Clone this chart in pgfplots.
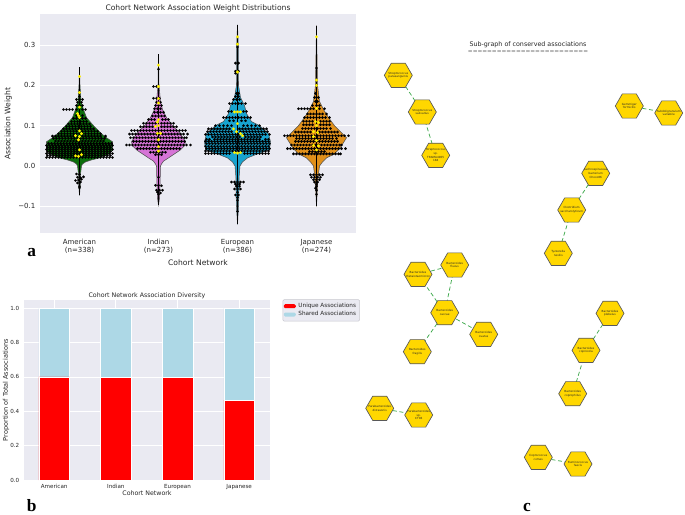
\documentclass[border=0pt]{standalone}
\usepackage{pgfplots}
\pgfplotsset{compat=1.18}
\usepackage{fontspec}
\setmainfont{DejaVu Sans}
\newfontfamily\labfont{Liberation Serif}

\definecolor{panel}{HTML}{EAEAF2}
\definecolor{inktext}{HTML}{262626}
\definecolor{vgreen}{HTML}{0B6E0B}
\definecolor{vpink}{HTML}{D674D6}
\definecolor{vblue}{HTML}{18A3CF}
\definecolor{vorange}{HTML}{E0901A}
\definecolor{vedge}{HTML}{505050}
\definecolor{edgegreen}{HTML}{3CA84A}
\definecolor{hexgold}{HTML}{FFD700}
\definecolor{lightblue}{HTML}{ADD8E6}

% flat topped hexagon, 28 px across
\pgfdeclareplotmark{hex}{%
  \pgfpathmoveto{\pgfqpoint{10.5pt}{0pt}}%
  \pgfpathlineto{\pgfqpoint{5.25pt}{9.09pt}}%
  \pgfpathlineto{\pgfqpoint{-5.25pt}{9.09pt}}%
  \pgfpathlineto{\pgfqpoint{-10.5pt}{0pt}}%
  \pgfpathlineto{\pgfqpoint{-5.25pt}{-9.09pt}}%
  \pgfpathlineto{\pgfqpoint{5.25pt}{-9.09pt}}%
  \pgfpathclose\pgfusepathqfillstroke}

\pgfplotsset{
  seabornish/.style={
    scale only axis, enlargelimits=false,
    axis background/.style={fill=panel},
    axis line style={draw=none}, tick style={draw=none},
    grid style={white,line width=0.6pt},
    tick label style={text=inktext},
    label style={text=inktext},
    title style={text=inktext},
  },
  dots/.style={only marks,mark=*,mark size=0.9pt,mark options={draw=black,fill=black,line width=0.2pt}},
  ydots/.style={only marks,mark=*,mark size=1pt,mark options={draw=yellow,fill=yellow,line width=0.2pt}},
  violin/.style={draw=vedge,line width=0.4pt,fill=#1},
  whisk/.style={black,line width=0.5pt},
  edgeline/.style={edgegreen,densely dashed,line width=0.55pt,mark=none},
  wholepage/.style={at={(0pt,0pt)},anchor=south west,scale only axis,
    width=513.75pt,height=385.5pt,
    xmin=0,xmax=685,ymin=0,ymax=514,y dir=reverse,hide axis,clip=false},
}

\begin{document}
\begin{tikzpicture}
\useasboundingbox (0,0) rectangle (513.75pt,385.5pt);

% panel a
\begin{axis}[seabornish,
  at={(30pt,210.5pt)},anchor=south west,
  width=237pt,height=164.25pt,
  xmin=0.5,xmax=316.5,ymin=-0.167,ymax=0.376,
  ymajorgrids,
  xtick={40,119,198,277},
  xticklabels={{American\\(n=338)},{Indian\\(n=273)},{European\\(n=386)},{Japanese\\(n=274)}},
  ytick={-0.1,0,0.1,0.2,0.3},
  yticklabels={−0.1,0.0,0.1,0.2,0.3},
  tick label style={font=\fontsize{5.25}{6}\selectfont},
  xticklabel style={align=center,yshift=-1pt},
  label style={font=\fontsize{5.7}{6}\selectfont},
  title style={font=\fontsize{5.7}{6}\selectfont,yshift=-8pt},
  xlabel style={yshift=2pt},
  ylabel style={yshift=-2.2pt},
  title={Cohort Network Association Weight Distributions},
  xlabel={Cohort Network},
  ylabel={Association Weight},
]
% violins
\addplot[violin=vgreen] coordinates {(40,.245)(39.5,.2)(38.5,.16)(36,.14)(33,.12)(26,.1)(18,.08)(13,.07)(7,.06)(7,.04)(10,.03)(20,.02)(28,.015)(34,.01)(37,.005)(38,0)(39,-.02)(39.3,-.05)(40,-.073)(40.7,-.05)(41,-.02)(42,0)(43,.005)(46,.01)(52,.015)(60,.02)(70,.03)(73,.04)(73,.06)(67,.07)(62,.08)(54,.1)(47,.12)(44,.14)(41.5,.16)(40.5,.2)} --cycle;
\addplot[violin=vpink] coordinates {(119,.277)(118.5,.2)(117,.16)(115,.14)(111,.12)(105,.1)(97,.08)(92,.06)(93,.05)(97,.04)(103,.03)(109,.02)(114,.012)(116,.005)(117,0)(117.5,-.05)(118,-.08)(119,-.097)(120,-.08)(120.5,-.05)(121,0)(122,.005)(124,.012)(129,.02)(135,.03)(141,.04)(145,.05)(146,.06)(141,.08)(133,.1)(127,.12)(123,.14)(121,.16)(119.5,.2)} --cycle;
\addplot[violin=vblue] coordinates {(198,.35)(197.2,.3)(197,.2)(195,.17)(191,.15)(189,.13)(184,.11)(176,.1)(167,.08)(165,.06)(166,.04)(178,.03)(188,.02)(193,.01)(195.5,0)(196.5,-.03)(196.5,-.06)(197,-.1)(198,-.145)(199,-.1)(199.5,-.06)(199.5,-.03)(200.5,0)(203,.01)(208,.02)(218,.03)(230,.04)(231,.06)(229,.08)(220,.1)(212,.11)(207,.13)(205,.15)(201,.17)(199,.2)(198.8,.3)} --cycle;
\addplot[violin=vorange] coordinates {(277,.348)(276,.2)(274,.16)(270,.14)(265,.12)(259,.1)(251,.08)(247,.07)(252,.05)(255,.04)(259,.03)(267,.02)(271,.01)(274,0)(275,-.02)(276,-.05)(277,-.1)(278,-.05)(279,-.02)(280,0)(283,.01)(287,.02)(295,.03)(299,.04)(302,.05)(307,.07)(303,.08)(295,.1)(289,.12)(284,.14)(280,.16)(278,.2)} --cycle;
% centre lines
\addplot[whisk] coordinates {(40,.245)(40,-.073)};
\addplot[whisk] coordinates {(119,.277)(119,-.097)};
\addplot[whisk] coordinates {(198,.35)(198,-.145)};
\addplot[whisk] coordinates {(277,.348)(277,-.1)};

% American swarm
\addplot[dots] coordinates {
(7,.021)(10,.021)(13,.021)(16,.021)(19,.021)(22,.021)(25,.021)(28,.021)(31,.021)(34,.021)(37,.021)(40,.021)(43,.021)(46,.021)(49,.021)(52,.021)(55,.021)(58,.021)(61,.021)(64,.021)(67,.021)(70,.021)(73,.021)
(8,.026)(11,.026)(14,.026)(17,.026)(20,.026)(23,.026)(26,.026)(29,.026)(32,.026)(35,.026)(38,.026)(41,.026)(44,.026)(47,.026)(50,.026)(53,.026)(56,.026)(59,.026)(62,.026)(65,.026)(68,.026)(71,.026)
(7,.031)(10,.031)(13,.031)(16,.031)(19,.031)(22,.031)(25,.031)(28,.031)(31,.031)(34,.031)(37,.031)(40,.031)(43,.031)(46,.031)(49,.031)(52,.031)(55,.031)(58,.031)(61,.031)(64,.031)(67,.031)(70,.031)(73,.031)
(8,.036)(11,.036)(14,.036)(17,.036)(20,.036)(23,.036)(26,.036)(29,.036)(32,.036)(35,.036)(38,.036)(41,.036)(44,.036)(47,.036)(50,.036)(53,.036)(56,.036)(59,.036)(62,.036)(65,.036)(68,.036)(71,.036)
(7,.041)(10,.041)(13,.041)(16,.041)(19,.041)(22,.041)(25,.041)(28,.041)(31,.041)(34,.041)(37,.041)(40,.041)(43,.041)(46,.041)(49,.041)(52,.041)(55,.041)(58,.041)(61,.041)(64,.041)(67,.041)(70,.041)(73,.041)
(8,.046)(11,.046)(14,.046)(17,.046)(20,.046)(23,.046)(26,.046)(29,.046)(32,.046)(35,.046)(38,.046)(41,.046)(44,.046)(47,.046)(50,.046)(53,.046)(56,.046)(59,.046)(62,.046)(65,.046)(68,.046)(71,.046)
(7,.051)(10,.051)(13,.051)(16,.051)(19,.051)(22,.051)(25,.051)(28,.051)(31,.051)(34,.051)(37,.051)(40,.051)(43,.051)(46,.051)(49,.051)(52,.051)(55,.051)(58,.051)(61,.051)(64,.051)(67,.051)(70,.051)(73,.051)
(9,.056)(12,.056)(15,.056)(18,.056)(21,.056)(24,.056)(27,.056)(30,.056)(33,.056)(36,.056)(39,.056)(42,.056)(45,.056)(48,.056)(51,.056)(54,.056)(57,.056)(60,.056)(63,.056)(66,.056)(69,.056)(72,.056)
(16,.062)(19,.062)(22,.062)(25,.062)(28,.062)(31,.062)(34,.062)(37,.062)(40,.062)(43,.062)(46,.062)(49,.062)(52,.062)(55,.062)(58,.062)(61,.062)(64,.062)
(14,.068)(17,.068)(20,.068)(23,.068)(26,.068)(29,.068)(32,.068)(35,.068)(38,.068)(41,.068)(44,.068)(47,.068)(50,.068)(53,.068)(56,.068)(59,.068)(62,.068)(65,.068)
(13,.074)(16,.074)(19,.074)(22,.074)(25,.074)(28,.074)(31,.074)(34,.074)(37,.074)(43,.074)(46,.074)(49,.074)(52,.074)(55,.074)(58,.074)(61,.074)(66,.074)
(19,.08)(22,.08)(25,.08)(28,.08)(31,.08)(34,.08)(37,.08)(40,.08)(43,.08)(46,.08)(49,.08)(52,.08)(55,.08)(58,.08)(61,.08)
(22,.086)(25,.086)(28,.086)(31,.086)(34,.086)(37,.086)(40,.086)(43,.086)(46,.086)(49,.086)(52,.086)(55,.086)(58,.086)
(24,.092)(27,.092)(30,.092)(33,.092)(36,.092)(39,.092)(42,.092)(45,.092)(48,.092)(51,.092)(54,.092)
(27,.098)(30,.098)(33,.098)(36,.098)(39,.098)(42,.098)(45,.098)(48,.098)(51,.098)
(29,.104)(32,.104)(35,.104)(38,.104)(41,.104)(44,.104)(47,.104)(50,.104)
(32,.11)(35,.11)(38,.11)(41,.11)(44,.11)(47,.11)
(34,.118)(37,.118)(40,.118)(43,.118)(46,.118)
(37,.125)(43,.125)
(24,.14)(27,.14)(30,.14)(33,.14)(37,.14)(43,.14)(46,.14)
(37,.15)(40,.15)(43,.15)(38,.158)(42,.158)(37,.165)(40,.165)(43,.165)(40,.172)
(37,-.02)(40,-.021)(38,-.028)(41,-.029)(44,-.027)(36,-.036)(39,-.035)(42,-.033)(38,-.042)(41,-.04)(40,-.05)(40,-.054)
};
\addplot[ydots] coordinates {(40,.222)(40,.182)(40,.146)(38,.13)(39,.125)(40,.12)(40,.087)(36,.075)(40,.073)(42,.08)(39,.065)(40,.04)(36,.025)(39,.024)(42,.028)};

% Indian swarm
\addplot[dots] coordinates {
(116,.028)(119,.028)(122,.028)
(111,.034)(114,.034)(117,.034)(120,.034)(123,.034)(126,.034)
(98,.043)(101,.043)(104,.043)(107,.043)(110,.043)(113,.043)(116,.043)(119,.043)(122,.043)(125,.043)(128,.043)(131,.043)(134,.043)(137,.043)(140,.043)
(87,.052)(90,.052)(93,.052)(96,.052)(99,.052)(102,.052)(105,.052)(108,.052)(111,.052)(114,.052)(117,.052)(120,.052)(123,.052)(126,.052)(129,.052)(132,.052)(135,.052)(138,.052)(141,.052)(144,.052)(147,.052)(151,.052)
(94,.061)(97,.061)(100,.061)(103,.061)(106,.061)(109,.061)(112,.061)(115,.061)(118,.061)(121,.061)(124,.061)(127,.061)(130,.061)(133,.061)(136,.061)(139,.061)(142,.061)(145,.061)
(91,.07)(94,.07)(97,.07)(100,.07)(103,.07)(106,.07)(109,.07)(112,.07)(115,.07)(118,.07)(121,.07)(124,.07)(127,.07)(130,.07)(133,.07)(136,.07)(139,.07)(142,.07)(145,.07)(147,.07)
(90,.079)(93,.079)(96,.079)(99,.079)(102,.079)(105,.079)(108,.079)(111,.079)(114,.079)(117,.079)(120,.079)(123,.079)(126,.079)(129,.079)(132,.079)(135,.079)(138,.079)(141,.079)(144,.079)(148,.079)
(92,.088)(95,.088)(98,.088)(101,.088)(104,.088)(107,.088)(110,.088)(113,.088)(116,.088)(119,.088)(122,.088)(125,.088)(128,.088)(131,.088)(134,.088)(137,.088)(140,.088)(143,.088)(146,.088)
(101,.097)(104,.097)(107,.097)(110,.097)(113,.097)(122,.097)(125,.097)(128,.097)(131,.097)(134,.097)(137,.097)
(104,.106)(107,.106)(110,.106)(113,.106)(116,.106)(122,.106)(125,.106)(128,.106)(131,.106)(134,.106)
(109,.115)(112,.115)(115,.115)(123,.115)(126,.115)(129,.115)
(113,.124)(116,.124)(119,.124)(122,.124)(125,.124)
(115,.133)(118,.133)(121,.133)(124,.133)
(115,.142)(118,.142)(121,.142)(116,.15)(119,.15)(122,.15)(117,.158)(121,.158)(114,.168)(117,.168)(120,.168)
(114,.197)(117,.197)(119,.24)
(119,-.028)(116,-.048)(119,-.048)(122,-.049)(117,-.06)(120,-.06)(123,-.06)(118,-.065)(121,-.067)(119,-.07)
};
\addplot[ydots] coordinates {(119,.25)(119,.197)(119,.167)(119,.156)(119,.115)(118,.109)(119,.1)(116,.098)(118,.081)(121,.081)(119,.065)(119,.048)(119,.037)};

% European swarm
\addplot[dots] coordinates {
(166,.031)(169,.031)(172,.031)(175,.031)(178,.031)(181,.031)(184,.031)(187,.031)(190,.031)(205,.031)(208,.031)(211,.031)(214,.031)(217,.031)(220,.031)(223,.031)(226,.031)(229,.031)
(166,.037)(169,.037)(172,.037)(175,.037)(178,.037)(181,.037)(184,.037)(187,.037)(190,.037)(193,.037)(196,.037)(199,.037)(202,.037)(205,.037)(208,.037)(211,.037)(214,.037)(217,.037)(220,.037)(223,.037)(226,.037)(229,.037)
(167,.043)(170,.043)(173,.043)(176,.043)(179,.043)(182,.043)(185,.043)(188,.043)(191,.043)(194,.043)(197,.043)(200,.043)(203,.043)(206,.043)(209,.043)(212,.043)(215,.043)(218,.043)(221,.043)(224,.043)(227,.043)(230,.043)
(166,.049)(169,.049)(172,.049)(175,.049)(178,.049)(181,.049)(184,.049)(187,.049)(190,.049)(193,.049)(196,.049)(199,.049)(202,.049)(205,.049)(208,.049)(211,.049)(214,.049)(217,.049)(220,.049)(223,.049)(226,.049)(229,.049)
(167,.055)(170,.055)(173,.055)(176,.055)(179,.055)(182,.055)(185,.055)(188,.055)(191,.055)(194,.055)(197,.055)(200,.055)(203,.055)(206,.055)(209,.055)(212,.055)(215,.055)(218,.055)(221,.055)(224,.055)(227,.055)(230,.055)
(166,.061)(169,.061)(172,.061)(175,.061)(178,.061)(181,.061)(184,.061)(187,.061)(190,.061)(193,.061)(196,.061)(199,.061)(202,.061)(205,.061)(208,.061)(211,.061)(214,.061)(217,.061)(220,.061)(223,.061)(226,.061)(229,.061)
(167,.066)(170,.066)(175,.066)(178,.066)(181,.066)(184,.066)(187,.066)(190,.066)(193,.066)(196,.066)(199,.066)(202,.066)(205,.066)(208,.066)(211,.066)(214,.066)(217,.066)(220,.066)(226,.066)(229,.066)
(173,.072)(176,.072)(179,.072)(182,.072)(185,.072)(188,.072)(191,.072)(194,.072)(197,.072)(200,.072)(206,.072)(209,.072)(212,.072)(215,.072)(218,.072)(221,.072)
(166,.078)(169,.078)(172,.078)(175,.078)(178,.078)(181,.078)(184,.078)(187,.078)(190,.078)(193,.078)(196,.078)(199,.078)(205,.078)(208,.078)(211,.078)(214,.078)(217,.078)(220,.078)(223,.078)(226,.078)(230,.078)
(168,.085)(171,.085)(174,.085)(177,.085)(180,.085)(183,.085)(186,.085)(189,.085)(192,.085)(201,.085)(204,.085)(207,.085)(210,.085)(213,.085)(216,.085)(219,.085)(222,.085)(225,.085)(228,.085)
(169,.092)(172,.092)(175,.092)(178,.092)(181,.092)(184,.092)(187,.092)(190,.092)(200,.092)(203,.092)(206,.092)(209,.092)(212,.092)(215,.092)(218,.092)(221,.092)(224,.092)(227,.092)
(176,.1)(180,.1)(184,.1)(188,.1)(192,.1)(204,.1)(208,.1)(212,.1)(216,.1)(220,.1)
(184,.12)(187,.12)(190,.12)(193,.12)(196,.12)(199,.12)(202,.12)(205,.12)(208,.12)(211,.12)
(190,.112)(194,.112)(202,.112)(206,.112)
(189,.135)(192,.135)(204,.135)(207,.135)
(190,.155)(193,.155)(196,.155)(199,.155)(202,.155)(206,.155)
(194,.165)(197,.165)(200,.165)(196,.172)(199,.172)(197,.18)(199,.18)
(196,.235)(199,.235)(196,.23)(196,.255)(199,.255)(198,.295)
(192,-.04)(195,-.04)(198,-.04)(201,-.04)(204,-.04)(196,-.045)(200,-.045)(197,-.05)(200,-.05)(195,-.057)(198,-.057)(201,-.057)(198,-.065)(196,-.072)(199,-.072)(198,-.078)(198,-.085)(198,-.113)
};
\addplot[ydots] coordinates {(198,.32)(198,.302)(198,.233)(195,.134)(198,.134)(201,.134)(198,.105)(194,.092)(197,.085)(201,.08)(203,.075)(195,.033)(198,.032)(201,.033)};

% Japanese swarm
\addplot[dots] coordinates {
(254,.03)(257,.03)(260,.03)(263,.03)(266,.03)(269,.03)(272,.03)(275,.03)(278,.03)(281,.03)(284,.03)(287,.03)(290,.03)(293,.03)(296,.03)(299,.03)(301,.03)
(270,.036)(273,.036)(276,.036)(279,.036)(282,.036)(285,.036)
(248,.043)(251,.043)(254,.043)(257,.043)(260,.043)(263,.043)(266,.043)(269,.043)(272,.043)(275,.043)(278,.043)(281,.043)(284,.043)(287,.043)(290,.043)(293,.043)(296,.043)(299,.043)(302,.043)(306,.043)
(252,.052)(255,.052)(258,.052)(261,.052)(264,.052)(267,.052)(270,.052)(273,.052)(276,.052)(279,.052)(282,.052)(285,.052)(288,.052)(291,.052)(294,.052)(297,.052)(300,.052)(302,.052)
(256,.061)(259,.061)(262,.061)(265,.061)(268,.061)(271,.061)(274,.061)(277,.061)(280,.061)(283,.061)(286,.061)(289,.061)(292,.061)(295,.061)(298,.061)
(257,.068)(260,.068)(263,.068)(266,.068)(269,.068)(272,.068)(275,.068)(278,.068)(281,.068)(284,.068)(287,.068)(290,.068)(293,.068)(297,.068)
(245,.075)(248,.075)(251,.075)(254,.075)(257,.075)(260,.075)(263,.075)(266,.075)(269,.075)(272,.075)(275,.075)(278,.075)(281,.075)(284,.075)(287,.075)(290,.075)(293,.075)(296,.075)(299,.075)(302,.075)(305,.075)(309,.075)
(256,.084)(259,.084)(262,.084)(265,.084)(268,.084)(271,.084)(280,.084)(283,.084)(286,.084)(289,.084)(292,.084)(295,.084)(298,.084)
(263,.093)(266,.093)(269,.093)(272,.093)(275,.093)(278,.093)(281,.093)(284,.093)(287,.093)(291,.093)
(264,.102)(267,.102)(270,.102)(273,.102)(281,.102)(284,.102)(287,.102)(290,.102)
(264,.111)(267,.111)(270,.111)(273,.111)(281,.111)(284,.111)(287,.111)(290,.111)
(265,.12)(268,.12)(271,.12)(274,.12)(277,.12)(280,.12)(283,.12)(286,.12)(290,.12)
(268,.129)(271,.129)(274,.129)(277,.129)(280,.129)(283,.129)(287,.129)
(259,.142)(262,.142)(265,.142)(268,.142)(271,.142)(274,.142)(280,.142)(285,.142)
(273,.15)(277,.15)(280,.15)(276,.16)(278,.16)(275,.17)(277,.17)(279,.17)(276,.18)(277,.243)
(271,-.022)(274,-.022)(277,-.022)(280,-.022)(283,-.022)(272,-.028)(275,-.028)(278,-.028)(281,-.028)(274,-.034)(277,-.034)(280,-.034)(275,-.04)(278,-.04)(277,-.045)(277,-.05)(276,-.055)(277,-.06)(277,-.07)
};
\addplot[ydots] coordinates {(277,.32)(277,.213)(277,.2)(277,.143)(276,.11)(279,.108)(277,.1)(274,.085)(278,.083)(274,.073)(277,.063)(274,.051)(279,.05)(277,.04)};
\end{axis}

% panel b
\begin{axis}[seabornish,
  at={(18pt,25.5pt)},anchor=south west,
  width=184.5pt,height=135pt,
  ybar stacked,bar width=23pt,
  xmin=-0.49,xmax=3.5,ymin=0,ymax=1.048,
  ymajorgrids,xmajorgrids,
  xtick={0,1,2,3},
  xticklabels={American,Indian,European,Japanese},
  ytick={0,0.2,0.4,0.6,0.8,1},
  yticklabels={0.0,0.2,0.4,0.6,0.8,1.0},
  tick label style={font=\fontsize{4.2}{5}\selectfont},
  label style={font=\fontsize{4.7}{5}\selectfont},
  title style={font=\fontsize{4.7}{5}\selectfont,yshift=-8.5pt},
  xlabel style={yshift=6pt},
  ylabel style={yshift=-6pt,font=\fontsize{4.9}{5}\selectfont},
  title={Cohort Network Association Diversity},
  xlabel={Cohort Network},
  ylabel={Proportion of Total Associations},
  legend style={at={(1.0516,1.004)},anchor=north west,fill=panel,draw=panel!85!black,
    rounded corners=1pt,font=\fontsize{4.3}{4.3}\selectfont,text=inktext,
    row sep=-2.5pt,inner sep=0.6pt},
  legend cell align={left},
  legend image code/.code={\fill[#1,draw=none] (0pt,-1.5pt) rectangle (9pt,1.5pt);},
]
\addplot[fill=red,draw=white,line width=0.3pt] coordinates {(0,0.600)(1,0.597)(2,0.597)(3,0.465)};
\addlegendentry{Unique Associations}
\addplot[fill=lightblue,draw=white,line width=0.3pt] coordinates {(0,0.400)(1,0.403)(2,0.403)(3,0.535)};
\addlegendentry{Shared Associations}
\end{axis}

% panel c, in picture pixels
\begin{axis}[wholepage]
\addplot[edgeline] coordinates {(398.3,75.3)(422.3,112)(435.7,155.3)};
\addplot[edgeline] coordinates {(629.3,106)(668.7,113)};
\addplot[edgeline] coordinates {(595.7,173.3)(571.7,210)(558.3,253.3)};
\addplot[edgeline] coordinates {(418,274.3)(454.7,265)(444.7,312.7)(418,274.3)};
\addplot[edgeline] coordinates {(444.7,312.7)(483.7,334.3)};
\addplot[edgeline] coordinates {(444.7,312.7)(417.3,351.7)};
\addplot[edgeline] coordinates {(379.7,408.3)(418.7,415)};
\addplot[edgeline] coordinates {(610,313.3)(586,350.3)(572.7,393.7)};
\addplot[edgeline] coordinates {(538.3,457.3)(578,464)};
\addplot[only marks,mark=hex,mark options={fill=hexgold,draw=black!65,line width=0.5pt,solid}] coordinates {
(398.3,75.3)(422.3,112)(435.7,155.3)
(629.3,106)(668.7,113)
(595.7,173.3)(571.7,210)(558.3,253.3)
(418,274.3)(454.7,265)(444.7,312.7)(483.7,334.3)(417.3,351.7)
(379.7,408.3)(418.7,415)
(610,313.3)(586,350.3)(572.7,393.7)
(538.3,457.3)(578,464)
};
\end{axis}

% texts on top of the hexagons
\begin{axis}[wholepage]
\tikzset{lab/.style={align=center,inner sep=0pt,font=\fontsize{2.1}{2.8}\selectfont,text=black!85}}
\node[lab] at (axis cs:398.3,75.3) {Streptococcus\\parasanguinis};
\node[lab] at (axis cs:422.3,112) {Streptococcus\\salivarius};
\node[lab] at (axis cs:435.7,155.3) {Streptococcus\\sp.\\TRAMA4905\\184};
\node[lab] at (axis cs:629.3,106) {Gemmiger\\formicilis};
\node[lab] at (axis cs:668.7,113) {Subdoligranulum\\variabile};
\node[lab] at (axis cs:595.7,173.3) {Lachnospiraceae\\bacterium\\Choco86};
\node[lab] at (axis cs:571.7,210) {Clostridium\\saccharolyticum};
\node[lab] at (axis cs:558.3,253.3) {Tyzzerella\\nexilis};
\node[lab] at (axis cs:418,274.3) {Bacteroides\\thetaiotaomicron};
\node[lab] at (axis cs:454.7,265) {Bacteroides\\fluxus};
\node[lab] at (axis cs:444.7,312.7) {Bacteroides\\caccae};
\node[lab] at (axis cs:483.7,334.3) {Bacteroides\\ovatus};
\node[lab] at (axis cs:417.3,351.7) {Bacteroides\\fragilis};
\node[lab] at (axis cs:379.7,408.3) {Parabacteroides\\distasonis};
\node[lab] at (axis cs:418.7,415) {Parabacteroides\\sp.\\CT06};
\node[lab] at (axis cs:610,313.3) {Bacteroides\\plebeius};
\node[lab] at (axis cs:586,350.3) {Bacteroides\\coprocola};
\node[lab] at (axis cs:572.7,393.7) {Bacteroides\\coprophilus};
\node[lab] at (axis cs:538.3,457.3) {Coprococcus\\comes};
\node[lab] at (axis cs:578,464) {Ruminococcus\\faecis};
\node[font=\fontsize{4.75}{5}\selectfont,text=inktext] at (axis cs:528,45) {Sub-graph of conserved associations};
\node[font=\fontsize{4.3}{5}\selectfont,text=black!60] at (axis cs:528,52) {=========================};
\node[font=\labfont\bfseries\fontsize{13}{14}\selectfont] at (axis cs:31.7,252.5) {a};
\node[font=\labfont\bfseries\fontsize{13}{14}\selectfont] at (axis cs:31.7,505.5) {b};
\node[font=\labfont\bfseries\fontsize{13}{14}\selectfont] at (axis cs:527,507) {c};
\end{axis}
\end{tikzpicture}
\end{document}
